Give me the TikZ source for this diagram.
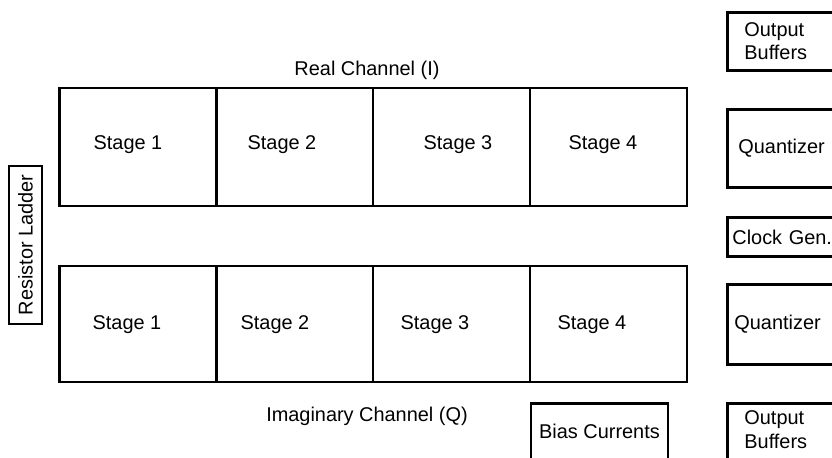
\documentclass[tikz,border=0pt]{standalone}
\usepackage{fontspec}
\setmainfont{Liberation Sans}

\begin{document}
\begin{tikzpicture}[x=0.03cm,y=-0.03cm,
  lbl/.style={font=\fontsize{17}{20}\selectfont},
  cell/.style={draw,line width=2.4pt,inner sep=0pt,minimum width=4.71cm},
  sidebox/.style={draw,line width=2.4pt,anchor=north west,align=left,inner ysep=0pt,lbl}]
  \useasboundingbox (0,0) rectangle (832,458);
  \clip (0,0) rectangle (832,458);
  % Real channel
  \node[lbl] (rname) at (367,70) {Real Channel (I)};
  \foreach \i/\x in {1/138,2/294.5,3/451.5,4/608.5}
    \node[cell,minimum height=3.54cm] (r\i) at (\x,147) {};
  \foreach \i/\x in {1/128,2/282,3/458,4/603}
    \node[lbl] (r\i t) at (\x,145) {Stage \i};
  % Imaginary channel
  \foreach \i/\x in {1/138,2/294.5,3/451.5,4/608.5}
    \node[cell,minimum height=3.48cm] (q\i) at (\x,324) {};
  \foreach \i/\x in {1/127,2/275,3/435,4/592}
    \node[lbl] (q\i t) at (\x,325) {Stage \i};
  \node[lbl] (qname) at (367,416) {Imaginary Channel (Q)};
  % Left and bottom blocks
  \node[draw,line width=2.4pt,rotate=90,inner sep=0pt,minimum width=4.74cm,minimum height=0.99cm,lbl] (ladder) at (25.5,245) {Resistor Ladder};
  \node[draw,line width=2.4pt,anchor=north,inner sep=0pt,minimum width=4.11cm,minimum height=1.86cm,text depth=0.21cm,lbl] (bias) at (599.5,402) {Bias Currents};
  % Right column
  \node[sidebox,minimum height=1.74cm,inner xsep=0.51cm,text width=3cm] (ob1) at (726,11) {Output\\Buffers};
  \node[sidebox,minimum height=2.34cm,inner xsep=0.33cm,text width=3.3cm] (qz1) at (726,108) {Quantizer};
  \node[sidebox,minimum height=1.17cm,inner xsep=0.15cm,text width=3.6cm] (clk) at (726,216) {Clock Gen.};
  \node[sidebox,minimum height=2.4cm,inner xsep=0.21cm,text width=3.5cm] (qz2) at (726,283) {Quantizer};
  \node[sidebox,minimum height=1.86cm,inner xsep=0.51cm,text width=3cm,text depth=1cm] (ob2) at (726,402) {Output\\Buffers};
\end{tikzpicture}
\end{document}
